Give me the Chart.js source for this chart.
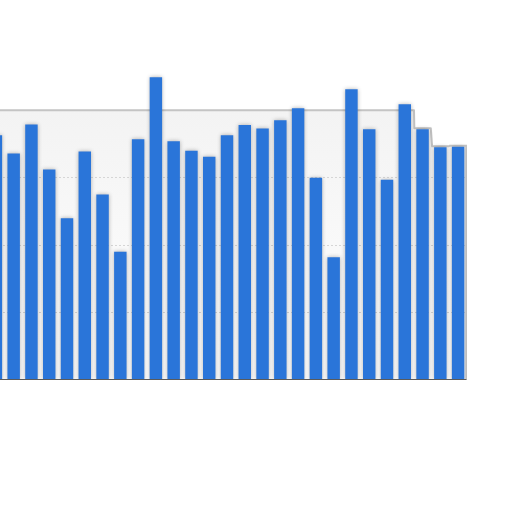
<!DOCTYPE html>
<html>
<head>
<meta charset="utf-8">
<script src="https://cdn.jsdelivr.net/npm/chart.js@4/dist/chart.umd.min.js"></script>
<style>
  html, body { margin: 0; padding: 0; background: #fff; overflow: hidden; }
  #wrap { position: absolute; left: -13px; top: 60px; width: 480px; height: 320px; }
</style>
</head>
<body>
<div id="wrap"><canvas id="grafico"></canvas></div>
<script>
// categorias y valores
const categorias = ['1','2','3','4','5','6','7','8','9','10','11','12','13','14','15','16','17','18','19','20','21','22','23','24','25','26','27']
const valores = [36.3, 33.6, 37.9, 31.2, 24.0, 33.9, 27.5, 19.0, 35.7, 44.9, 35.4, 34.0, 33.1, 36.3, 37.8, 37.3, 38.5, 40.3, 30.0, 18.2, 43.1, 37.2, 29.7, 40.9, 37.2, 34.5, 34.6]
const ticksY = [0, 10, 20, 30, 40]
const nivelBanda = 40
const finBanda = 23 // ultima barra bajo la banda plana

// borde derecho de la ultima barra
const bordeDerecho = (barras) => barras[barras.length - 1].x + barras[0].width / 2 + 2

// banda gris de fondo con borde sombreado
const bandaFondo = {
    id: 'bandaFondo',
    beforeDraw(chart) {
        const ctx = chart.ctx
        const area = chart.chartArea
        const y = chart.scales.y
        const barras = chart.getDatasetMeta(0).data
        const yb = y.getPixelForValue(nivelBanda)
        const y0 = y.getPixelForValue(0)
        const w = barras[finBanda].width / 2
        const xr = bordeDerecho(barras)

        ctx.save()
        ctx.beginPath()
        ctx.moveTo(area.left, yb)
        ctx.lineTo(barras[finBanda].x + w + 3, yb)
        for (let i = finBanda + 1; i < barras.length; i++) {
            ctx.lineTo(barras[i].x - w - 2, barras[i].y)
            ctx.lineTo(barras[i].x + w + 2, barras[i].y)
        }
        ctx.lineTo(xr, y0)
        ctx.lineTo(area.left, y0)
        ctx.closePath()
        let degradado = ctx.createLinearGradient(0, yb, 0, y0)
        degradado.addColorStop(0, '#f3f3f3')
        degradado.addColorStop(0.5, '#f9f9f9')
        degradado.addColorStop(1, '#fdfdfd')
        ctx.fillStyle = degradado
        ctx.fill()

        ctx.beginPath()
        ctx.moveTo(area.left, yb)
        ctx.lineTo(barras[finBanda].x + w + 3, yb)
        for (let i = finBanda + 1; i < barras.length; i++) {
            ctx.lineTo(barras[i].x - w - 2, barras[i].y - 1)
            ctx.lineTo(barras[i].x + w + 2, barras[i].y - 1)
        }
        ctx.lineTo(xr, y0)
        ctx.strokeStyle = '#c4c4c4'
        ctx.lineWidth = 2
        ctx.lineJoin = 'round'
        ctx.stroke()
        ctx.restore()
    },
    beforeDatasetDraw(chart) {
        chart.ctx.save()
        chart.ctx.shadowColor = 'rgba(0,0,0,0.3)'
        chart.ctx.shadowBlur = 4
    },
    afterDatasetDraw(chart) {
        chart.ctx.restore()
    },
    afterDatasetsDraw(chart) {
        // linea base solida con sombra clara
        const ctx = chart.ctx
        const y0 = chart.scales.y.getPixelForValue(0)
        const xr = bordeDerecho(chart.getDatasetMeta(0).data)
        ctx.save()
        ctx.fillStyle = '#d0d0d0'
        ctx.fillRect(chart.chartArea.left, y0 + 1, xr - chart.chartArea.left, 2)
        ctx.fillStyle = '#5a5a5a'
        ctx.fillRect(chart.chartArea.left, y0 - 1, xr - chart.chartArea.left, 2)
        ctx.restore()
    }
}

new Chart(document.getElementById('grafico'), {
    type: 'bar',
    data: {
        labels: categorias,
        datasets: [{
            label: 'Valores',
            data: valores,
            backgroundColor: '#2a75d9',
            borderWidth: 0,
            barPercentage: 0.7,
            categoryPercentage: 1
        }]
    },
    options: {
        responsive: true,
        maintainAspectRatio: false,
        animation: false,
        layout: { padding: 0 },
        plugins: { legend: { display: false }, tooltip: { enabled: false } },
        scales: {
            x: { display: false },
            y: {
                min: 0,
                max: 47.45,
                afterBuildTicks(scale) { scale.ticks = ticksY.map(v => ({ value: v })) },
                ticks: { display: false },
                border: { display: false, dash: [2, 2] },
                grid: {
                    drawTicks: false,
                    color: c => (c.tick.value === 0 || c.tick.value === nivelBanda) ? 'transparent' : '#d6d6d6'
                }
            }
        }
    },
    plugins: [bandaFondo]
})
</script>
</body>
</html>
